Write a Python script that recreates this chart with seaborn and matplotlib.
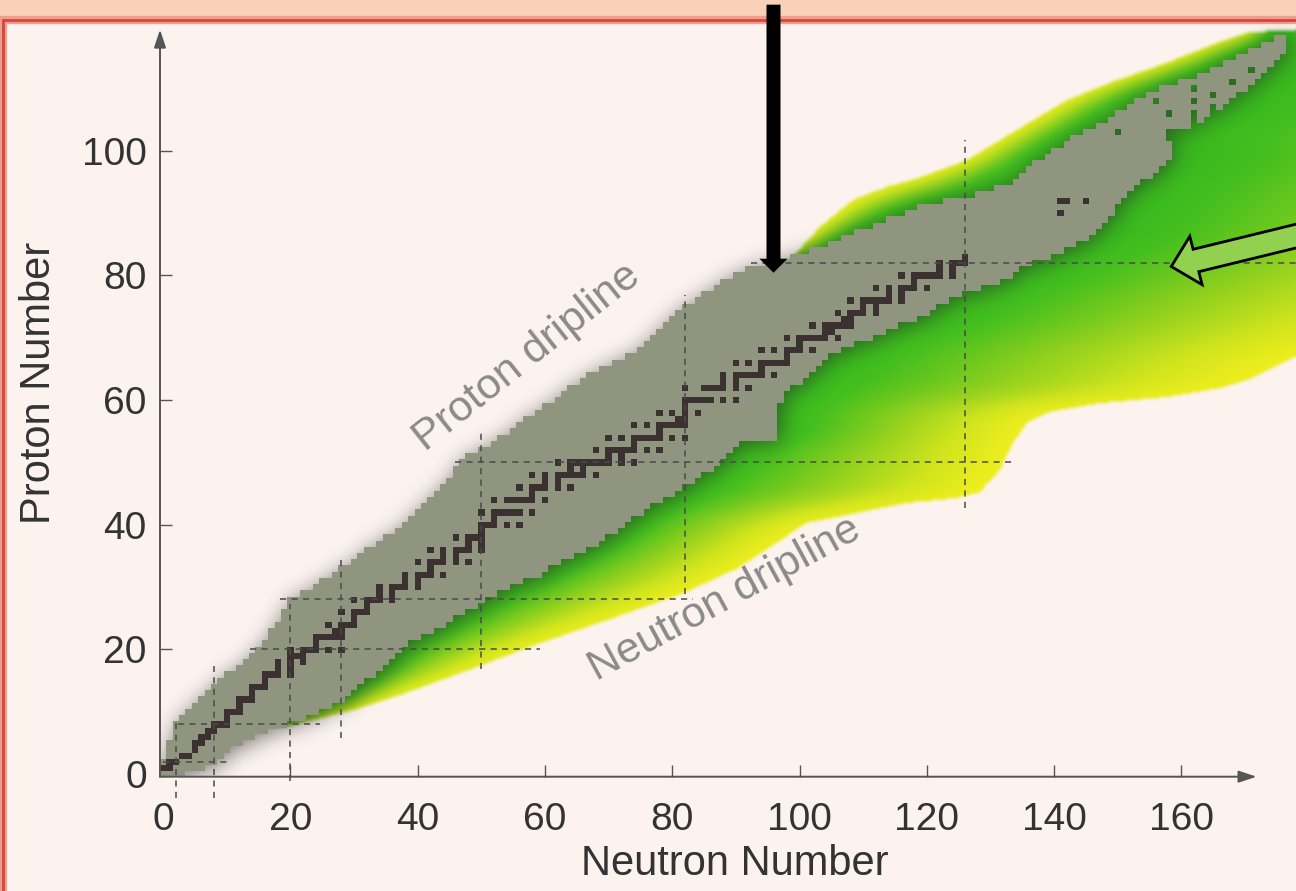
import numpy as np
import pandas as pd
import matplotlib
matplotlib.use("Agg")
import matplotlib.pyplot as plt
import seaborn as sns
from matplotlib.colors import LinearSegmentedColormap, to_rgb
from matplotlib.path import Path
from matplotlib.patches import Rectangle, FancyArrow

# known nuclei: lightest / heaviest neutron number for Z = 0..118
z_known = list(range(0, 119))
n_min = [0, 0, 0, 1, 1, 1, 2, 2, 2, 3, 4, 5, 6, 7, 8, 9, 10, 12, 13, 14,
         15, 16, 17, 17, 18, 19, 19, 20, 20, 22, 24, 25, 27, 28, 30, 31, 32, 34, 35, 37,
         38, 39, 40, 41, 42, 43, 44, 45, 46, 46, 47, 48, 50, 52, 53, 55, 56, 57, 59, 60,
         62, 63, 64, 66, 67, 69, 71, 73, 75, 76, 77, 78, 79, 80, 81, 82, 84, 85, 87, 88,
         90, 92, 95, 99, 102, 105, 107, 109, 112, 114, 117, 119, 123, 128, 131, 134, 135, 136, 137, 139,
         140, 142, 143, 145, 147, 149, 150, 152, 153, 155, 157, 160, 163, 165, 167, 169, 171, 173, 175]
n_max = [3, 6, 8, 9, 10, 12, 14, 16, 19, 22, 24, 26, 28, 29, 30, 31, 33, 34, 35, 36,
         37, 38, 40, 42, 44, 45, 47, 49, 50, 52, 54, 56, 59, 60, 62, 64, 66, 68, 69, 71,
         72, 73, 75, 76, 78, 80, 81, 83, 84, 86, 87, 88, 89, 90, 96, 96, 96, 96, 96, 96,
         97, 97, 98, 100, 101, 102, 103, 104, 106, 108, 111, 113, 115, 118, 120, 121, 123, 125, 128, 131,
         133, 134, 136, 139, 141, 143, 145, 146, 147, 148, 149, 149, 150, 151, 152, 153, 155, 156, 157, 158,
         158, 158, 157, 157, 161, 163, 165, 166, 167, 168, 170, 171, 172, 173, 174, 175, 176, 176, 176]

# gaps inside the ragged top of the known region (N, Z)
gap_n = [162, 162, 162, 162, 162, 165, 165, 165, 158, 156, 150, 168, 171]
gap_z = [104, 105, 106, 108, 110, 106, 107, 109, 106, 108, 103, 111, 113]

# stable (and very long-lived) nuclei: neutron numbers for each Z
stable_z = [1, 2, 3, 4, 5, 6, 7, 8, 9, 10, 11, 12, 13, 14, 15, 16, 17, 18, 19, 20,
            21, 22, 23, 24, 25, 26, 27, 28, 29, 30, 31, 32, 33, 34, 35, 36, 37, 38, 39, 40,
            41, 42, 44, 45, 46, 47, 48, 49, 50, 51, 52, 53, 54, 55, 56, 57, 58, 59, 60,
            62, 63, 64, 65, 66, 67, 68, 69, 70, 71, 72, 73, 74, 75, 76, 77, 78, 79, 80,
            81, 82, 83, 90, 92]
stable_n = [[0, 1], [1, 2], [3, 4], [5], [5, 6], [6, 7], [7, 8], [8, 9, 10], [10], [10, 11, 12],
            [12], [12, 13, 14], [14], [14, 15, 16], [16], [16, 17, 18, 20], [18, 20], [18, 20, 22],
            [20, 21, 22], [20, 22, 23, 24, 26, 28], [24], [24, 25, 26, 27, 28], [27, 28],
            [26, 28, 29, 30], [30], [28, 30, 31, 32], [32], [30, 32, 33, 34, 36], [34, 36],
            [34, 36, 37, 38, 40], [38, 40], [38, 40, 41, 42, 44], [42], [40, 42, 43, 44, 46, 48],
            [44, 46], [42, 44, 46, 47, 48, 50], [48, 50], [46, 48, 49, 50], [50],
            [50, 51, 52, 54, 56], [52], [50, 52, 53, 54, 55, 56, 58], [52, 54, 55, 56, 57, 58, 60],
            [58], [56, 58, 59, 60, 62, 64], [60, 62], [58, 60, 62, 63, 64, 65, 66, 68], [64, 66],
            [62, 64, 65, 66, 67, 68, 69, 70, 72, 74], [70, 72], [68, 70, 71, 72, 73, 74, 76, 78],
            [74], [70, 72, 74, 75, 76, 77, 78, 80, 82], [78], [74, 76, 78, 79, 80, 81, 82],
            [81, 82], [78, 80, 82, 84], [82], [82, 83, 84, 85, 86, 88, 90],
            [82, 85, 86, 87, 88, 90, 92], [88, 90], [88, 90, 91, 92, 93, 94, 96], [94],
            [90, 92, 94, 95, 96, 97, 98], [98], [94, 96, 98, 99, 100, 102], [100],
            [98, 100, 101, 102, 103, 104, 106], [104, 105], [102, 104, 105, 106, 107, 108],
            [107, 108], [106, 108, 109, 110, 112], [110, 112], [108, 110, 111, 112, 113, 114, 116],
            [114, 116], [112, 114, 116, 117, 118, 120], [118], [116, 118, 119, 120, 121, 122, 124],
            [122, 124], [122, 124, 125, 126], [126], [141], [141, 142, 145]]

# driplines (N, Z); the last neutron points lie beyond the frame
drip_n_n = [19.0, 30.0, 38.0, 45.1, 59.2, 69.7, 81.7, 90.6, 101.1, 109.0, 116.8, 122.0, 125.2,
            128.3, 131.5, 133.5, 135.7, 139.3, 147.2, 157.7, 166.0, 170.3, 178.5, 195, 230, 260, 290]
drip_n_z = [7.5, 10.3, 13.0, 15.6, 21.0, 24.7, 29.0, 33.2, 40.3, 41.9, 43.5, 44.0, 44.4,
            45.2, 48.8, 53.1, 56.3, 58.1, 59.5, 60.5, 61.9, 63.2, 67.2, 72, 85, 100, 122]
drip_p_n = [96.0, 98.5, 103.2, 108.4, 113.7, 118.9, 126.3, 134.1, 142.0, 149.8, 157.7, 165.6,
            170.7, 178.5, 190]
drip_p_z = [80.5, 82.5, 87.8, 92.1, 94.2, 95.7, 98.5, 103.3, 108.1, 111.3, 114.1, 117.3,
            119.0, 119.4, 119.6]

# magic numbers (dashed guide lines)
magic_h_z = [2, 8, 20, 28, 50, 82]
magic_h_n0 = [0.0, 2.3, 13.6, 18.3, 45.8, 92.4]
magic_h_n1 = [10.7, 24.6, 59.2, 83.2, 133.3, 185.0]
magic_v_n = [2, 8, 20, 28, 50, 82, 126]
magic_v_z0 = [-3.9, -3.9, -1.1, 5.8, 16.9, 28.9, 42.7]
magic_v_z1 = [8.8, 17.4, 27.3, 34.7, 54.7, 76.8, 101.7]

x_ticks = [0, 20, 40, 60, 80, 100, 120, 140, 160]
y_ticks = [0, 20, 40, 60, 80, 100]

GRAY = "#8f957f"
STABLE = "#3b3131"


def box_blur(a, r, passes=1):
    out = np.asarray(a, dtype=float)
    k = 2 * r + 1
    for _ in range(passes):
        for axis in (0, 1):
            pad = [(r, r) if i == axis else (0, 0) for i in range(2)]
            c = np.cumsum(np.pad(out, pad, mode="edge"), axis=axis)
            c = np.insert(c, 0, 0, axis=axis)
            if axis == 0:
                out = (c[k:] - c[:-k]) / k
            else:
                out = (c[:, k:] - c[:, :-k]) / k
    return out


sns.set_style("ticks")
plt.rcParams["font.family"] = ["Liberation Sans", "DejaVu Sans"]

fig = plt.figure(figsize=(12.96, 8.91), dpi=100)
fig.patch.set_facecolor("#f9d1b8")
fig.add_artist(Rectangle((0.0027, -0.05), 1.1, 1.0281, transform=fig.transFigure,
                         fc="#fcf3ef", ec="#ee9f8c", lw=6, zorder=-10))
fig.add_artist(Rectangle((0.0027, -0.05), 1.1, 1.0281, transform=fig.transFigure,
                         fc="none", ec="#d4463f", lw=2, zorder=-9))

ax = fig.add_axes([160 / 1296, 114.3 / 891, 1136 / 1296, 757.7 / 891])
ax.set_facecolor("none")

nmin_a = np.array(n_min)
nmax_a = np.array(n_max)

# known nuclei cells
known = np.zeros((121, 180), dtype=bool)
for z, lo, hi in zip(z_known, n_min, n_max):
    known[z, lo:hi + 1] = True
known[gap_z, gap_n] = False

# fine grid for the smooth layers
res = 0.25
gn = np.arange(-10, 200, res) + res / 2
gz = np.arange(-10, 130, res) + res / 2
NN, ZZ = np.meshgrid(gn, gz)
zi = np.rint(ZZ).astype(int)
ni = np.rint(NN).astype(int)
ok = (zi >= 0) & (zi < 121) & (ni >= 0) & (ni < 180)
in_gray = np.zeros(NN.shape, dtype=bool)
in_gray[ok] = known[zi[ok], ni[ok]]
fine_ext = (gn[0] - res / 2, gn[-1] + res / 2, gz[0] - res / 2, gz[-1] + res / 2)

# predicted (unknown) nuclei region, closed inside the known band
mid_edge = [(0.5 * (n_min[z] + n_max[z]), z) for z in range(80, 7, -1)]
poly = (list(zip(drip_n_n, drip_n_z)) + [(300, 130)]
        + list(zip(drip_p_n[::-1], drip_p_z[::-1])) + mid_edge)
inside = Path(poly).contains_points(np.c_[NN.ravel(), ZZ.ravel()]).reshape(NN.shape)
green_alpha = box_blur(inside, 1)

ng_r = np.interp(ZZ, z_known, nmax_a + 0.5)
ng_l = np.interp(ZZ, z_known, nmin_a - 0.5)
nd = np.interp(ZZ, drip_n_z, drip_n_n)
npl = np.interp(ZZ, drip_p_z, drip_p_n)
t_n = np.clip((NN - ng_r) / np.maximum(nd - ng_r, 3), 0, 1)
t_p = np.clip((ng_l - NN) / np.maximum(ng_l - npl, 3), 0, 1) ** 1.8
t = np.where(NN > 0.5 * (ng_l + ng_r), t_n, t_p)
t = box_blur(t, 6, passes=2)
cmap = LinearSegmentedColormap.from_list(
    "drip", [(0, "#36b71e"), (0.15, "#45bf1f"), (0.45, "#8fd01e"), (0.75, "#cfe41e"), (1, "#f0ef1d")])
green = cmap(np.clip(t, 0, 1))
green[..., 3] = green_alpha
ax.imshow(green, extent=fine_ext, origin="lower", aspect="auto", interpolation="bilinear", zorder=1)

# soft shadow around the known nuclei
shadow = np.zeros(NN.shape + (4,))
shadow[..., :3] = to_rgb("#262424")
shadow[..., 3] = 0.6 * box_blur(in_gray, 6, passes=3)
sh_ext = (fine_ext[0] + 0.4, fine_ext[1] + 0.4, fine_ext[2] - 0.4, fine_ext[3] - 0.4)
ax.imshow(shadow, extent=sh_ext, origin="lower", aspect="auto", interpolation="bilinear", zorder=2)

cells = np.zeros((121, 180, 4))
cells[known] = (*to_rgb(GRAY), 1)
for z, ns in zip(stable_z, stable_n):
    for n in ns:
        cells[z, n] = (*to_rgb(STABLE), 1)
ax.imshow(cells, extent=(-0.5, 179.5, -0.5, 120.5), origin="lower", aspect="auto",
          interpolation="nearest", zorder=3)

# magic number guide lines
rows = []
for i, (z, a, b) in enumerate(zip(magic_h_z, magic_h_n0, magic_h_n1)):
    rows += [{"seg": f"h{i}", "N": a, "Z": z}, {"seg": f"h{i}", "N": b, "Z": z}]
for i, (n, a, b) in enumerate(zip(magic_v_n, magic_v_z0, magic_v_z1)):
    rows += [{"seg": f"v{i}", "N": n, "Z": a}, {"seg": f"v{i}", "N": n, "Z": b}]
magic = pd.DataFrame(rows)
sns.lineplot(data=magic, x="N", y="Z", units="seg", estimator=None, sort=False,
             color="#4a4a4a", lw=1.1, linestyle=(0, (4, 3.5)), legend=False, ax=ax, zorder=5)
for ln in ax.lines:
    ln.set_clip_on(False)

ax.set_xlim(-0.5, 178.0)
ax.set_ylim(-0.43, 121.1)
for s in ax.spines.values():
    s.set_visible(False)

# axes with arrow heads
arrow_kw = dict(arrowstyle="-|>,head_length=0.9,head_width=0.3", color="#555555", lw=1.4,
                shrinkA=0, shrinkB=0, mutation_scale=12)
ax.annotate("", xy=(171.8, -0.43), xytext=(-0.5, -0.43), arrowprops=arrow_kw, annotation_clip=False)
ax.annotate("", xy=(-0.5, 119.4), xytext=(-0.5, -0.43), arrowprops=arrow_kw, annotation_clip=False)

ax.set_xticks(x_ticks)
ax.set_yticks(y_ticks)
ax.tick_params(direction="in", length=8.5, width=1, color="#555555", labelsize=28, labelcolor="#333333")
ax.tick_params(axis="x", pad=18)
ax.tick_params(axis="y", pad=9.5)

ax.set_xlabel("Neutron Number", fontsize=30, color="#333333")
ax.set_ylabel("Proton Number", fontsize=30, color="#333333")
ax.xaxis.set_label_coords(0.506, -0.089)
ax.yaxis.set_label_coords(-0.089, 0.52)

ax.text(58.2, 65.4, "Proton dripline", rotation=38.4, rotation_mode="anchor", ha="center",
        va="baseline", fontsize=31, color="#8a8a8a", zorder=6)
ax.text(89.0, 26.5, "Neutron dripline", rotation=28.5, rotation_mode="anchor", ha="center",
        va="baseline", fontsize=31, color="#8a8a8a", zorder=6)

# pointer arrows
ax.add_patch(FancyArrow(95.9, 123.4, 0, 80.4 - 123.4, width=2.2, head_width=4.4, head_length=2.25,
                        length_includes_head=True, fc="black", ec="black", lw=0,
                        clip_on=False, zorder=10))
ax.add_patch(FancyArrow(184.9, 88.0, 158.4 - 184.9, 81.4 - 88.0, width=3.7, head_width=8.0,
                        head_length=4.0, length_includes_head=True, fc="#92d050", ec="black",
                        lw=2.0, clip_on=False, zorder=10))

fig.savefig("out.png", dpi=100)
